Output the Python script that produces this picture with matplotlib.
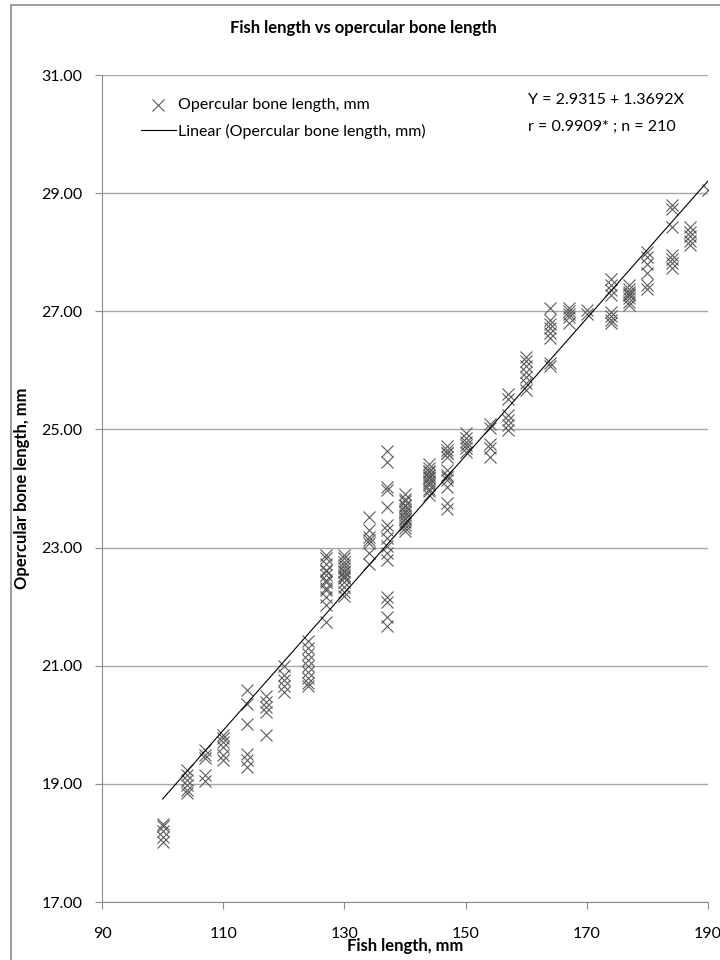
import numpy as np
import matplotlib
matplotlib.use('Agg')
import matplotlib.pyplot as plt
from matplotlib.patches import Rectangle

plt.rcParams['font.family'] = ['Lato', 'DejaVu Sans']

# fish length (mm) -> opercular bone lengths (mm) read for that length
lengths = [100, 104, 107, 110, 114, 117, 120, 124, 127, 130, 134, 137, 140, 144,
           147, 150, 154, 157, 160, 164, 167, 170, 174, 177, 180, 184, 187, 190]
bone = [
    [18.32, 18.28, 18.2, 18.1, 18.02],
    [19.24, 19.15, 19.06, 18.98, 18.9, 18.84],
    [19.57, 19.49, 19.43, 19.15, 19.05],
    [19.83, 19.77, 19.71, 19.63, 19.49, 19.4],
    [20.59, 20.36, 20.02, 19.5, 19.4, 19.29],
    [20.48, 20.38, 20.3, 20.22, 19.83],
    [21.0, 20.85, 20.75, 20.65, 20.55],
    [21.42, 21.3, 21.2, 21.1, 21.0, 20.9, 20.8, 20.7, 20.65],
    [22.88, 22.82, 22.73, 22.62, 22.54, 22.42, 22.31, 22.28, 22.17, 22.03, 21.74, 22.6, 22.45],
    [22.88, 22.82, 22.76, 22.7, 22.65, 22.59, 22.54, 22.48, 22.42, 22.34, 22.25, 22.18, 22.6, 22.5],
    [23.52, 23.3, 23.18, 23.13, 23.07, 22.9, 22.73],
    [24.63, 24.45, 24.03, 23.97, 23.69, 23.38, 23.3, 23.16, 23.02, 22.9, 22.79,
     22.17, 22.08, 21.83, 21.68],
    [23.9, 23.83, 23.78, 23.72, 23.66, 23.61, 23.55, 23.49, 23.44, 23.38, 23.33, 23.28,
     23.5, 23.6, 23.7],
    [24.42, 24.34, 24.28, 24.23, 24.17, 24.12, 24.06, 24.0, 23.95, 23.89, 24.2, 24.1, 24.3],
    [24.72, 24.65, 24.6, 24.54, 24.31, 24.23, 24.14, 24.03, 23.75, 23.66, 24.6, 24.2],
    [24.94, 24.86, 24.79, 24.74, 24.68, 24.62],
    [25.1, 25.02, 24.76, 24.68, 24.54],
    [25.6, 25.52, 25.24, 25.16, 25.08, 24.99],
    [26.22, 26.16, 26.08, 25.98, 25.89, 25.78, 25.67],
    [27.05, 26.85, 26.78, 26.71, 26.63, 26.54, 26.12, 26.08],
    [27.06, 27.0, 26.95, 26.9, 26.8],
    [27.02, 26.96],
    [27.55, 27.45, 27.36, 27.28, 26.98, 26.92, 26.86, 26.8],
    [27.44, 27.38, 27.32, 27.27, 27.22, 27.16, 27.1, 27.3],
    [28.0, 27.92, 27.8, 27.65, 27.45, 27.38],
    [28.8, 28.74, 28.42, 27.95, 27.88, 27.82, 27.73],
    [28.42, 28.35, 28.27, 28.19, 28.12],
    [29.05],
]
title = 'Fish length vs opercular bone length'
equation = 'Y = 2.9315 + 1.3692X'
stats = 'r = 0.9909* ; n = 210'

x = np.concatenate([[l] * len(b) for l, b in zip(lengths, bone)])
y = np.concatenate(bone)

fig = plt.figure(figsize=(7.2, 9.6), dpi=100)
ax = fig.add_axes([102 / 720, 1 - 902 / 960, 606 / 720, 827 / 960])

fig.patches.append(Rectangle((11 / 720, -0.05), 1.2, 1.05 - 5 / 960, transform=fig.transFigure,
                             fill=False, edgecolor='#8c8c8c', linewidth=1.2))

ax.scatter(x, y, marker='x', s=75, color='#5a5a5a', linewidths=0.8,
           label='Opercular bone length, mm', zorder=3)

slope, inter = np.polyfit(x, y, 1)
xs = np.array([x.min(), x.max()])
ax.plot(xs, inter + slope * xs, color='black', linewidth=0.8,
        label='Linear (Opercular bone length, mm)', zorder=4)

ax.set_xlim(90, 190)
ax.set_ylim(17, 31)
ax.set_xticks(np.arange(90, 191, 20))
ax.set_yticks(np.arange(17, 31.1, 2))
ax.set_yticklabels(['%.2f' % v for v in np.arange(17, 31.1, 2)])
ax.yaxis.grid(True, color='#a6a6a6', linewidth=1.0)
ax.set_axisbelow(True)
for s in ['top', 'right']:
    ax.spines[s].set_visible(False)
for s in ['left', 'bottom']:
    ax.spines[s].set_color('#8c8c8c')
ax.tick_params(axis='both', colors='#8c8c8c', labelcolor='black', labelsize=11.5, length=5)
ax.tick_params(axis='x', pad=13)
ax.tick_params(axis='y', pad=9)

ax.set_xlabel('Fish length, mm', fontsize=12, fontweight='bold', labelpad=-2)
ax.set_ylabel('Opercular bone length, mm', fontsize=12, fontweight='bold', labelpad=8)
fig.text(0.505, 1 - 28 / 960, title, ha='center', va='center', fontsize=12, fontweight='bold')

ax.legend(loc='upper left', frameon=False, fontsize=11.5, handlelength=2.2,
          bbox_to_anchor=(0.04, 0.99), labelspacing=0.75, handletextpad=0.15)
ax.text(528 / 720, 1 - 100 / 960, equation, transform=fig.transFigure, fontsize=11.5, va='center')
ax.text(528 / 720, 1 - 127 / 960, stats, transform=fig.transFigure, fontsize=11.5, va='center')

fig.savefig('out.png', dpi=100)
